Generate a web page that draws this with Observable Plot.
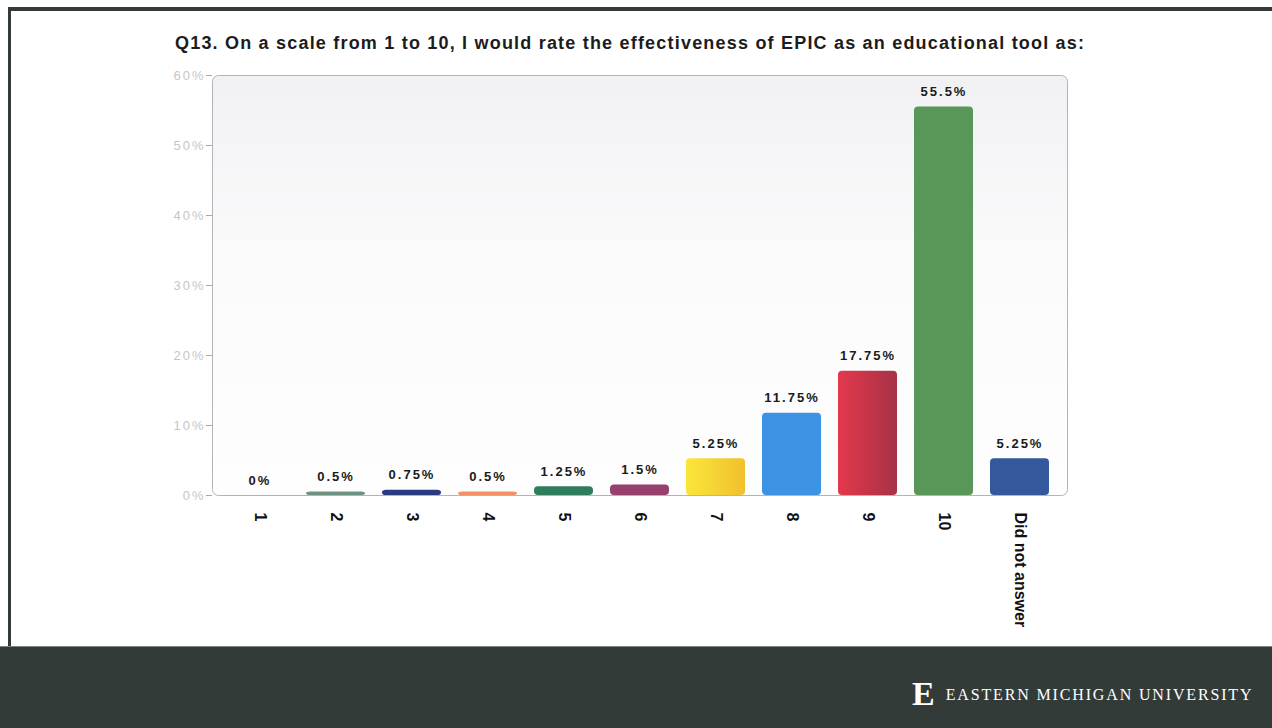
<!DOCTYPE html>
<html>
<head>
<meta charset="utf-8">
<script src="https://cdn.jsdelivr.net/npm/d3@7"></script>
<script src="https://cdn.jsdelivr.net/npm/@observablehq/plot@0.6"></script>
<style>
  html, body { margin: 0; padding: 0; background: #ffffff; overflow: hidden; }
  #slide { position: relative; width: 1272px; height: 728px; background: #ffffff; }
  #topbar { position: absolute; left: 8px; right: 0; top: 7px; height: 4px; background: #333b39; }
  #leftbar { position: absolute; left: 8px; top: 7px; width: 3px; height: 640px; background: #333b39; }
  #title { position: absolute; left: 175px; top: 33px; font: bold 18px "Liberation Sans", Arial, sans-serif; color: #1c1c1c; white-space: nowrap; letter-spacing: 1.2px; }
  #chart { position: absolute; left: 0; top: 0; }
  #footer { position: absolute; left: 0; top: 646px; width: 1272px; height: 82px; background: #333b39; border-top: 1px solid #7d8482; box-sizing: border-box; }
  #logo { position: absolute; left: 912px; top: 28px; color: #ffffff; font-family: "Liberation Serif", "DejaVu Serif", serif; white-space: nowrap; }
  #logo .e { font-size: 34px; font-weight: 900; vertical-align: -5px; margin-right: 11px; }
  #logo .name { font-size: 16px; letter-spacing: 1.85px; }
  .value-label text { letter-spacing: 2px; }
  .y-ticks text { letter-spacing: 2px; }
</style>
</head>
<body>
<div id="slide">
  <div id="topbar"></div>
  <div id="leftbar"></div>
  <div id="chart"></div>
  <div id="title">Q13. On a scale from 1 to 10, I would rate the effectiveness of EPIC as an educational tool as:</div>
  <div id="footer">
    <div id="logo"><span class="e">E</span><span class="name">EASTERN MICHIGAN UNIVERSITY</span></div>
  </div>
</div>
<script>
// Rating categories and the share of responses for each (percent)
const categories = ["1", "2", "3", "4", "5", "6", "7", "8", "9", "10", "Did not answer"];
const values = [0, 0.5, 0.75, 0.5, 1.25, 1.5, 5.25, 11.75, 17.75, 55.5, 5.25];
const valueLabels = ["0%", "0.5%", "0.75%", "0.5%", "1.25%", "1.5%", "5.25%", "11.75%", "17.75%", "55.5%", "5.25%"];
const barFills = ["#8a8a8a", "#6f9383", "#2b3a80", "#f39066", "#2f7d5d", "#96406e",
                  "url(#gradYellow)", "#3d93e3", "url(#gradRed)", "#589757", "#33589c"];
const yTicks = [0, 10, 20, 30, 40, 50, 60];

const rows = categories.map((c, i) => ({
  category: c,
  value: values[i],
  label: valueLabels[i],
  fill: barFills[i]
}));

const chart = Plot.plot({
  width: 1272,
  height: 645,
  marginTop: 75,
  marginBottom: 150,
  marginLeft: 212,
  marginRight: 205,
  style: { fontFamily: "Liberation Sans, Arial, sans-serif", background: "transparent" },
  x: { domain: categories, padding: 0.22, label: null },
  y: { domain: [0, 60], label: null },
  color: { type: "identity" },
  marks: [
    Plot.frame({ fill: "url(#gradPanel)", stroke: "#b4b4b8", rx: 6 }),
    Plot.axisY({
      ticks: yTicks,
      tickFormat: d => d + "%",
      tickSize: 6,
      tickPadding: 1,
      fontSize: 13,
      color: "#c6c6c6",
      stroke: "#a8a8a8",
      className: "y-ticks"
    }),
    Plot.axisX({
      tickSize: 0,
      tickPadding: 17,
      tickRotate: 90,
      fontSize: 16,
      fontWeight: "bold",
      color: "#111111"
    }),
    Plot.barY(rows, { x: "category", y: "value", fill: "fill", rx: 4 }),
    Plot.text(rows, {
      x: "category",
      y: "value",
      text: "label",
      dy: -15,
      fontSize: 13,
      fontWeight: "bold",
      fill: "#1a1a1a",
      className: "value-label"
    })
  ]
});

// Gradient fills used by the panel and by two of the bars
const defs = d3.select(chart).insert("defs", ":first-child");
const panel = defs.append("linearGradient").attr("id", "gradPanel")
  .attr("x1", 0).attr("y1", 0).attr("x2", 0).attr("y2", 1);
panel.append("stop").attr("offset", "0%").attr("stop-color", "#f1f1f4");
panel.append("stop").attr("offset", "40%").attr("stop-color", "#fafafb");
panel.append("stop").attr("offset", "100%").attr("stop-color", "#fefefe");

const yellow = defs.append("linearGradient").attr("id", "gradYellow");
yellow.append("stop").attr("offset", "0%").attr("stop-color", "#fbe63a");
yellow.append("stop").attr("offset", "100%").attr("stop-color", "#f0c02e");

const red = defs.append("linearGradient").attr("id", "gradRed");
red.append("stop").attr("offset", "0%").attr("stop-color", "#e4384c");
red.append("stop").attr("offset", "100%").attr("stop-color", "#a63246");

document.getElementById("chart").appendChild(chart);
</script>
</body>
</html>
